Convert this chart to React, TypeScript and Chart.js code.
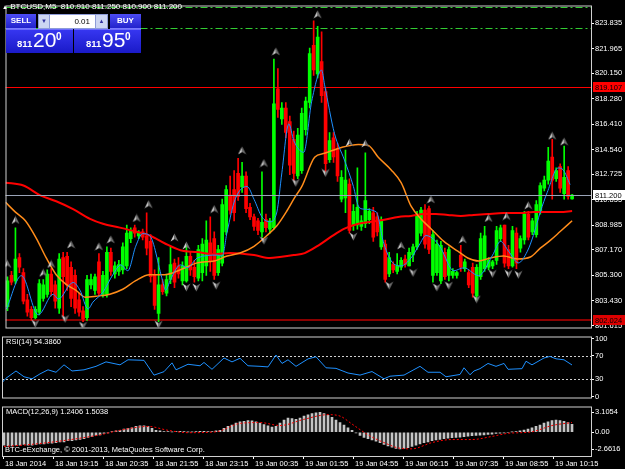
import React, { useEffect, useRef } from "react";
import { Chart, registerables } from "chart.js";

Chart.register(...registerables);

const FONT_FAMILY = "'Liberation Sans', Arial, sans-serif";
const FONT_SIZE = 7.5;

// ---------------- price panel (M5 candles, index = bar number) ----------------
const barOpen = [
  803.0, 805.3, 804.9, 806.6, 805.5, 803.5, 802.8, 802.2, 802.6, 803.6,
  803.9, 805.4, 804.6, 802.9, 806.6, 806.7, 805.9, 805.3, 803.5, 802.7,
  802.2, 804.6, 804.2, 806.3, 803.9, 803.9, 807.0, 805.4, 805.6, 805.7,
  806.0, 808.0, 808.8, 808.2, 808.5, 808.2, 807.8, 805.3, 802.5, 804.6,
  804.0, 805.0, 806.2, 806.0, 804.9, 804.9, 806.7, 805.9, 805.1, 805.5,
  806.0, 807.7, 808.0, 805.5, 806.2, 808.5, 811.2, 811.6, 812.8, 811.8,
  812.6, 810.3, 809.6, 809.3, 808.5, 809.4, 808.7, 808.8, 819.0, 816.8,
  817.6, 816.6, 815.3, 812.6, 813.0, 816.0, 818.0, 822.2, 820.1, 821.0,
  818.8, 813.8, 815.4, 814.6, 810.9, 811.0, 812.0, 809.0, 809.0, 808.9,
  809.1, 809.4, 809.9, 809.6, 807.4, 807.6, 805.4, 806.1, 805.6, 805.9,
  806.5, 806.0, 806.8, 807.4, 808.4, 810.1, 810.2, 805.3, 805.5, 804.9,
  807.0, 805.3, 805.3, 805.3, 806.8, 805.8, 805.5, 805.9, 803.8, 805.2,
  805.8, 805.9, 806.0, 806.4, 808.0, 809.0, 807.2, 806.0, 808.4, 807.3,
  807.9, 809.8, 808.5, 808.3, 810.0, 811.7, 812.3, 814.0, 812.4, 813.3,
  811.3, 813.0, 810.91,
];
const barHigh = [
  805.2, 805.6, 808.8, 806.9, 805.8, 803.9, 803.0, 803.0, 805.0, 805.0,
  805.7, 805.8, 804.9, 806.9, 807.0, 807.0, 806.3, 805.7, 804.0, 803.0,
  805.3, 805.4, 805.4, 806.9, 805.6, 807.4, 807.3, 806.3, 806.4, 807.7,
  809.0, 808.8, 809.0, 808.6, 808.7, 809.9, 808.3, 805.7, 806.6, 805.0,
  805.4, 807.4, 806.5, 806.6, 806.3, 807.5, 807.0, 806.4, 807.5, 808.0,
  809.3, 809.6, 808.5, 807.5, 810.9, 811.9, 812.6, 813.0, 813.9, 813.6,
  812.9, 810.6, 809.8, 809.5, 812.9, 809.8, 809.5, 821.2, 820.5, 818.0,
  818.0, 817.0, 815.9, 816.1, 817.6, 818.4, 822.0, 824.0, 823.6, 823.2,
  819.0, 815.8, 815.8, 815.0, 813.0, 814.5, 812.4, 810.5, 813.2, 809.7,
  814.3, 810.2, 810.3, 809.9, 809.6, 807.9, 807.0, 806.3, 806.9, 806.6,
  806.8, 807.3, 807.6, 810.0, 810.3, 810.5, 810.4, 808.6, 807.9, 807.8,
  807.3, 807.4, 805.8, 805.6, 807.5, 806.5, 805.7, 806.2, 806.1, 808.4,
  808.9, 806.6, 806.4, 808.9, 809.0, 809.0, 807.5, 808.9, 808.8, 808.2,
  810.0, 810.0, 809.5, 810.8, 812.1, 812.6, 814.7, 815.3, 813.2, 813.5,
  814.8, 813.3, 811.25,
];
const barLow = [
  802.7, 804.6, 804.7, 805.5, 803.2, 802.3, 802.0, 802.1, 802.4, 803.4,
  803.7, 803.8, 802.9, 802.5, 802.3, 804.2, 803.0, 802.5, 802.3, 801.9,
  802.0, 804.3, 803.9, 803.8, 803.7, 803.7, 805.3, 805.1, 805.3, 805.4,
  805.8, 807.7, 808.1, 808.0, 807.9, 806.8, 804.8, 802.8, 801.9, 803.9,
  803.8, 804.7, 804.4, 805.1, 804.6, 804.8, 805.3, 804.8, 804.9, 804.9,
  805.3, 805.6, 805.0, 805.3, 806.0, 808.3, 809.8, 809.3, 810.8, 811.4,
  809.9, 809.4, 808.6, 808.3, 808.1, 808.5, 808.4, 808.7, 816.9, 816.4,
  815.4, 812.7, 812.3, 812.4, 812.8, 815.6, 817.6, 820.0, 819.8, 818.0,
  812.9, 813.6, 813.6, 812.2, 810.7, 809.9, 808.4, 808.6, 808.7, 808.6,
  808.8, 809.1, 807.8, 808.2, 807.2, 804.8, 805.2, 805.5, 805.4, 805.7,
  805.9, 806.0, 806.3, 807.2, 808.2, 807.3, 806.9, 804.8, 805.3, 804.7,
  805.0, 804.9, 805.1, 805.1, 805.6, 805.6, 804.4, 803.7, 803.5, 805.0,
  805.6, 805.7, 805.8, 806.1, 807.8, 805.9, 805.8, 805.9, 805.8, 807.0,
  807.6, 807.9, 808.3, 808.1, 809.8, 811.5, 812.0, 810.9, 812.2, 811.4,
  810.9, 810.9, 810.9,
];
const barClose = [
  804.9, 804.8, 806.5, 805.9, 803.4, 802.6, 802.2, 802.8, 804.7, 804.6,
  805.4, 804.1, 803.4, 806.5, 805.2, 804.6, 803.6, 802.9, 802.6, 802.1,
  805.0, 805.0, 805.2, 804.0, 805.3, 807.0, 805.6, 806.0, 806.1, 807.4,
  808.4, 808.6, 808.4, 808.4, 808.1, 807.3, 805.2, 803.1, 804.6, 804.1,
  805.0, 806.1, 804.8, 805.4, 806.0, 806.7, 805.7, 805.2, 807.2, 807.6,
  807.9, 806.3, 805.3, 807.2, 810.5, 811.6, 810.1, 809.9, 811.1, 812.6,
  810.2, 809.6, 808.9, 808.6, 809.2, 808.8, 809.3, 817.9, 817.5, 817.6,
  815.8, 813.4, 812.8, 815.6, 817.2, 818.1, 821.6, 820.4, 822.8, 818.5,
  813.5, 815.2, 814.0, 812.6, 812.5, 812.3, 808.6, 810.0, 810.3, 809.3,
  810.8, 810.0, 808.1, 808.5, 809.3, 805.0, 806.6, 805.7, 806.0, 806.4,
  806.1, 807.0, 807.4, 809.7, 810.1, 807.6, 807.2, 808.3, 807.6, 807.5,
  805.2, 807.2, 805.6, 805.5, 805.9, 806.3, 804.6, 804.0, 805.9, 808.0,
  808.2, 806.4, 806.3, 808.6, 808.8, 806.2, 806.0, 808.6, 806.2, 808.0,
  809.8, 808.1, 809.3, 810.5, 811.9, 812.3, 813.7, 812.3, 813.0, 811.7,
  812.5, 811.1, 811.2,
];

const priceTicks = [823.835, 821.965, 820.15, 818.28, 816.41, 814.54, 812.725, 810.855, 808.985, 807.17, 805.3, 803.43, 801.615];
const levelRedLine = 819.107;
const levelDarkRedLine = 802.024;
const bidLine = 811.2;
const greenLines = [824.99, 823.475];

// moving averages (bar index, price)
const maSlowX = [-0.5, 4, 8.25, 12.25, 16.5, 20.75, 24, 28.25, 32.25, 35.75, 39.5, 43.5, 47.75, 52, 56, 62, 66, 68.5, 72, 74.75, 78.25, 81.5, 84.75, 88.25, 91.5, 94.75, 98.25, 101.5, 104.75, 107.75, 110.75, 114, 117.25, 120.75, 124.75, 129, 132.25, 135.75, 139, 142];
const maSlowY = [812.11, 811.9, 811.18, 810.75, 810.17, 809.45, 809.09, 808.81, 808.52, 808.23, 807.66, 807.15, 807.01, 806.86, 806.94, 806.79, 806.58, 806.65, 806.79, 806.94, 807.51, 808.16, 808.73, 809.09, 809.24, 809.38, 809.59, 809.67, 809.81, 809.81, 809.74, 809.67, 809.74, 809.81, 809.88, 809.88, 809.96, 809.96, 809.96, 810.03];
const maMidX = [-0.5, 2, 4.5, 7.25, 9.75, 12.25, 14.75, 17.25, 19.5, 22.25, 25.75, 29, 32.25, 35.75, 39.5, 43.5, 47.75, 52, 55.25, 58.5, 62, 65.25, 67.75, 70.25, 72.25, 74, 77.25, 79.75, 84, 88.25, 90.75, 93.25, 96.5, 99, 101.5, 104, 106.5, 109.75, 113.25, 115.75, 118.5, 121.5, 124.75, 128.25, 131.5, 134, 136.5, 139, 142];
const maMidY = [810.67, 809.95, 809.31, 808.02, 806.58, 805.35, 804.64, 804.2, 803.7, 803.77, 803.92, 804.28, 804.92, 805.35, 805.35, 805.71, 806.22, 806.36, 806.72, 806.94, 807.44, 808.23, 808.95, 810.03, 811.03, 811.82, 813.98, 814.27, 814.7, 814.92, 814.85, 813.98, 813.05, 812.11, 810.39, 809.45, 808.73, 807.8, 807.08, 806.58, 806.36, 806.58, 806.72, 806.5, 806.65, 807.3, 807.87, 808.52, 809.31];
const maFastX = [-0.25, 3.5, 7.75, 11.5, 12.75, 16.5, 18.25, 20.25, 21.5, 24, 26.5, 28.5, 30.25, 32.25, 34, 35.75, 39, 39.75, 41, 43.5, 45.25, 47.75, 52.75, 54, 55.25, 57.25, 60.25, 62, 64, 66, 67.75, 69, 70.75, 72, 74.5, 76.5, 79, 79.75, 82.25, 84.75, 87, 88.25, 89.5, 92.75, 94.5, 96.5, 99, 101.5, 103.5, 105.25, 107.75, 109, 112.25, 114.75, 118.5, 122, 124, 126, 128.5, 130.75, 132.25, 134, 135.75, 138.5, 139.75, 141.5];
const maFastY = [802.83, 805.28, 802.41, 803.92, 803.56, 804.78, 804.2, 802.83, 803.34, 804.06, 805.35, 806.07, 805.64, 807.44, 808.37, 808.23, 804.92, 804.2, 804.99, 806.07, 805.86, 806.58, 806.79, 806.72, 808.52, 810.89, 811.83, 810.89, 809.59, 809.24, 809.96, 812.83, 816.43, 815.2, 814.34, 818.08, 820.38, 819.3, 815.71, 813.77, 811.83, 810.39, 810.17, 809.96, 807.8, 806.36, 806.0, 806.58, 807.51, 808.23, 807.8, 807.29, 805.64, 805.86, 805.28, 806.79, 807.8, 807.08, 806.22, 807.08, 808.23, 809.96, 811.4, 813.19, 813.05, 811.97];

// fractal markers (bar index, price of marker)
const fractalUpX = [0, 2, 9, 11, 16, 23, 26, 32.5, 35.5, 42, 45, 52, 59, 64.5, 67.5, 78, 86, 90, 99, 106.5, 114.5, 121, 125.5, 131, 137, 140];
const fractalUpY = [806.14, 809.37, 805.49, 806.14, 807.57, 807.43, 807.94, 809.52, 810.53, 808.08, 807.5, 810.17, 814.48, 813.55, 821.75, 824.48, 815.06, 814.99, 807.5, 810.88, 807.94, 809.52, 809.66, 810.45, 815.56, 815.13];
const fractalDownX = [7, 14.5, 19, 38, 45, 47.5, 52.5, 64.5, 72.5, 80, 87, 96, 102, 108, 111, 118, 122, 126, 128.5];
const fractalDownY = [801.75, 802.11, 801.6, 801.68, 804.41, 804.41, 804.55, 807.86, 812.11, 812.83, 808.15, 804.55, 805.49, 804.41, 804.55, 803.55, 805.42, 805.42, 805.35];

// ---------------- RSI(14) ----------------
const rsiX = [-0.5, 0.5, 3, 5, 7, 9, 11, 13, 15, 17, 20, 23, 25.5, 29, 31, 35, 37.5, 40, 42, 43, 46, 49, 50, 52, 55, 57, 59, 61, 64, 66, 68, 69.5, 71, 73, 76, 78, 80.5, 83, 86, 89, 92, 95, 96.5, 100, 104, 106, 109, 110.5, 114, 115, 116.5, 117.5, 119, 121, 123, 125, 126, 129.5, 130.5, 132, 135, 136.5, 138, 140, 142];
const rsiY = [23.8, 31.5, 44, 34, 30.5, 39, 46, 41.8, 54.6, 44, 46, 52, 59.7, 54.6, 63.3, 62.3, 36.8, 42.8, 58, 46, 55.6, 53, 58.7, 46.9, 66.4, 59.7, 65.9, 53, 52, 51, 71.5, 57, 63.3, 52, 64.8, 68.5, 49.5, 48.5, 40.5, 36.9, 43, 30.5, 35, 36.9, 52, 41.8, 41.8, 34, 38, 49.5, 37.4, 44, 48, 57, 52, 57, 46.9, 48, 60.8, 54.6, 66.4, 69, 65, 63.3, 54.39];
const rsiTicks = [100, 70, 30, 0];
const rsiLevels = [70, 30];

// ---------------- MACD(12,26,9) ----------------
const macdHist = [
  -2.0, -2.1, -2.1, -2.0, -2.0, -1.9, -2.0, -2.0, -1.9, -1.8,
  -1.8, -1.7, -1.7, -1.6, -1.5, -1.5, -1.3, -1.3, -1.2, -1.1,
  -1.0, -0.8, -0.7, -0.5, -0.4, -0.2, -0.1, 0.1, 0.2, 0.3,
  0.5, 0.6, 0.7, 0.9, 1.0, 1.0, 0.9, 0.6, 0.3, 0.2,
  0.1, 0.1, 0.05, 0.1, 0.15, 0.1, 0.05, 0.05, 0.1, 0.15,
  0.15, 0.1, 0.1, 0.2, 0.3, 0.6, 0.9, 1.1, 1.4, 1.6,
  1.7, 1.8, 1.75, 1.6, 1.4, 1.2, 1.0, 0.8, 0.9, 1.4,
  1.9, 2.2, 2.1, 2.0, 2.2, 2.5, 2.7, 2.9, 3.0, 3.1,
  2.9, 2.6, 2.3, 1.9, 1.5, 1.1, 0.7, 0.3, -0.1, -0.5,
  -0.8, -1.0, -1.2, -1.4, -1.6, -1.9, -2.1, -2.3, -2.5, -2.6,
  -2.5, -2.4, -2.2, -2.0, -1.8, -1.6, -1.5, -1.3, -1.2, -1.1,
  -1.0, -0.9, -0.85, -0.8, -0.75, -0.7, -0.6, -0.55, -0.5, -0.45,
  -0.4, -0.35, -0.3, -0.2, -0.15, -0.1, 0.0, 0.05, 0.1, 0.2,
  0.35, 0.5, 0.7, 0.9, 1.1, 1.4, 1.6, 1.8, 1.9, 1.8,
  1.7, 1.5, 1.24,
];
const signalX = [0, 6.5, 14, 24, 29, 36, 41, 46, 53, 59, 64, 69, 75, 81, 84, 87, 91, 95, 99, 102, 107, 112, 117, 122, 126, 132, 137, 142];
const signalY = [-2.2, -1.9, -1.37, -0.4, 0.3, 0.9, 0.3, -0.07, 0.07, 1.37, 1.5, 1.04, 2.0, 2.72, 2.5, 1.27, -0.4, -1.6, -2.48, -2.57, -1.6, -1.13, -1.13, -0.65, -0.17, 0.07, 1.04, 1.5];
const macdTicks = [3.1054, 0, -2.6616];

// ---------------- time axis ----------------
const timeTickX = [-0.25, 12.25, 24.75, 37.25, 49.75, 62.25, 74.75, 87.25, 99.75, 112.25, 124.75, 137.25];
const timeLabels = ["18 Jan 2014", "18 Jan 19:15", "18 Jan 20:35", "18 Jan 21:55", "18 Jan 23:15", "19 Jan 00:35", "19 Jan 01:55", "19 Jan 04:55", "19 Jan 06:15", "19 Jan 07:35", "19 Jan 08:55", "19 Jan 10:15"];

// ---------------- header texts ----------------
const symbolLabel = "BTCUSD,M5";
const headerOHLC = ["810.910", "811.250", "810.900", "811.200"];
const lotSize = "0.01";
const sellQuote = ["811", "20", "0"];
const buyQuote = ["811", "95", "0"];
const rsiLabel = "RSI(14) 54.3860";
const macdLabel = "MACD(12,26,9) 1.2406 1.5038";
const copyright = "BTC-eExchange, © 2001-2013, MetaQuotes Software Corp.";

const X_MIN = -0.5;
const X_MAX = 146.75;
const BULL = "#00ff00";
const BEAR = "#ff0000";
const AXIS_COLOR = "#ffffff";
const FRAME_COLOR = "#d0d0d0";

type Level = { value: number; color: string; width: number; dash: number[]; above: boolean };

const zip = (xs: number[], ys: number[]) => xs.map((x, i) => ({ x, y: ys[i] }));

function rightAxis(min: number, max: number, ticks: number[], fmt: (v: number) => string) {
  return {
    type: "linear",
    position: "right",
    min,
    max,
    beginAtZero: false,
    afterFit: (s: any) => {
      s.width = 34;
    },
    afterBuildTicks: (s: any) => {
      s.ticks = ticks.map((v) => ({ value: v }));
    },
    ticks: {
      color: AXIS_COLOR,
      font: { family: FONT_FAMILY, size: FONT_SIZE },
      padding: 1,
      autoSkip: false,
      callback: (v: any) => fmt(Number(v)),
    },
    grid: { drawOnChartArea: false, drawTicks: true, tickLength: 3, color: AXIS_COLOR },
    border: { display: false },
  };
}

function framePlugin(dTop: number, dBottom: number) {
  return {
    id: "frame",
    afterDraw(chart: any) {
      const { ctx, chartArea: a } = chart;
      ctx.save();
      ctx.strokeStyle = FRAME_COLOR;
      ctx.lineWidth = 1;
      ctx.strokeRect(a.left + 0.5, a.top + dTop + 0.5, a.right - a.left, a.bottom - a.top - dTop + dBottom);
      ctx.restore();
    },
  };
}

// horizontal levels drawn through the y scale, snapped to whole pixels
function levelsPlugin(levels: Level[]) {
  const draw = (chart: any, above: boolean) => {
    const { ctx, chartArea: a } = chart;
    const ys = chart.scales.y;
    ctx.save();
    levels
      .filter((l) => l.above === above)
      .forEach((l) => {
        const p = ys.getPixelForValue(l.value);
        const y = l.width % 2 === 1 ? Math.round(p) + 0.5 : Math.round(p);
        ctx.strokeStyle = l.color;
        ctx.lineWidth = l.width;
        ctx.setLineDash(l.dash);
        ctx.beginPath();
        ctx.moveTo(a.left, y);
        ctx.lineTo(a.right, y);
        ctx.stroke();
      });
    ctx.restore();
  };
  return {
    id: "levels",
    beforeDatasetsDraw(chart: any) {
      draw(chart, false);
    },
    afterDatasetsDraw(chart: any) {
      draw(chart, true);
    },
  };
}

function makeArrow(up: boolean) {
  const c = document.createElement("canvas");
  c.width = 9;
  c.height = 9;
  const g = c.getContext("2d")!;
  const tip = up ? 0.5 : 8.5;
  const base = up ? 8.5 : 0.5;
  const notch = up ? 6 : 3;
  g.fillStyle = "#d0d0d0";
  g.beginPath();
  g.moveTo(4.5, tip);
  g.lineTo(4.5, notch);
  g.lineTo(0.5, base);
  g.closePath();
  g.fill();
  g.fillStyle = "#707070";
  g.beginPath();
  g.moveTo(4.5, tip);
  g.lineTo(8.5, base);
  g.lineTo(4.5, notch);
  g.closePath();
  g.fill();
  return c;
}

export default function App() {
  const mainRef = useRef<HTMLCanvasElement>(null);
  const rsiRef = useRef<HTMLCanvasElement>(null);
  const macdRef = useRef<HTMLCanvasElement>(null);

  useEffect(() => {
    const charts: Chart[] = [];
    const idx = barOpen.map((_, i) => i);
    const candleColor = idx.map((i) => (barClose[i] >= barOpen[i] ? BULL : BEAR));
    const upArrow = makeArrow(true);
    const downArrow = makeArrow(false);

    const mainLevels: Level[] = [
      ...greenLines.map((v) => ({ value: v, color: "#32cd32", width: 1, dash: [7, 3, 2, 3], above: false })),
      { value: levelRedLine, color: "#ff0000", width: 1, dash: [], above: false },
      { value: levelDarkRedLine, color: "#8b0000", width: 2, dash: [], above: false },
      { value: bidLine, color: "#9aa4b8", width: 1, dash: [], above: true },
    ];
    const rsiLevelLines: Level[] = rsiLevels.map((v) => ({ value: v, color: "#d0d0d0", width: 1, dash: [2, 2], above: false }));

    const tags = [
      { value: levelRedLine, bg: "#ff0000", fg: "#000000" },
      { value: bidLine, bg: "#ffffff", fg: "#000000" },
      { value: levelDarkRedLine, bg: "#dd0000", fg: "#000000" },
    ];
    const tagPlugin = {
      id: "tags",
      afterDraw(chart: any) {
        const { ctx, chartArea: a } = chart;
        const ys = chart.scales.y;
        ctx.save();
        ctx.font = `${FONT_SIZE}px ${FONT_FAMILY}`;
        ctx.textBaseline = "middle";
        tags.forEach((t) => {
          const y = Math.round(ys.getPixelForValue(t.value));
          ctx.fillStyle = t.bg;
          ctx.fillRect(a.right + 2, y - 5, chart.width - a.right - 2, 10);
          ctx.fillStyle = t.fg;
          ctx.fillText(t.value.toFixed(3), a.right + 4, y + 0.5);
        });
        ctx.restore();
      },
    };

    const lineDs = (xs: number[], ys: number[], color: string, width: number, order: number) => ({
      type: "line",
      data: zip(xs, ys),
      borderColor: color,
      borderWidth: width,
      pointRadius: 0,
      cubicInterpolationMode: "monotone",
      order,
    });

    const fractalDs = (xs: number[], ys: number[], img: HTMLCanvasElement) => ({
      type: "line",
      data: zip(xs, ys),
      showLine: false,
      pointStyle: img,
      pointRadius: 4.5,
      order: 1,
    });

    if (mainRef.current) {
      charts.push(
        new Chart(mainRef.current, {
          type: "bar",
          data: {
            datasets: [
              {
                type: "bar",
                data: idx.map((i) => ({ x: i, y: [barLow[i], barHigh[i]] })),
                backgroundColor: candleColor,
                barThickness: 1,
                grouped: false,
                order: 9,
              },
              {
                type: "bar",
                data: idx.map((i) => ({ x: i, y: [barOpen[i], barClose[i]] })),
                backgroundColor: candleColor,
                barThickness: 3,
                minBarLength: 1,
                grouped: false,
                order: 8,
              },
              lineDs(maSlowX, maSlowY, "#ff0000", 2, 5),
              lineDs(maMidX, maMidY, "#ff8c1a", 1.5, 4),
              lineDs(maFastX, maFastY, "#1e90ff", 1, 3),
              fractalDs(fractalUpX, fractalUpY, upArrow),
              fractalDs(fractalDownX, fractalDownY, downArrow),
            ] as any,
          },
          options: {
            responsive: false,
            animation: false,
            devicePixelRatio: 1,
            layout: { padding: { left: 2, top: 2, bottom: 2, right: 0 } },
            plugins: { legend: { display: false }, tooltip: { enabled: false } },
            scales: {
              x: { type: "linear", min: X_MIN, max: X_MAX, display: false, offset: false, grid: { offset: false } },
              y: rightAxis(801.471, 825.129, priceTicks, (v) => v.toFixed(3)),
            } as any,
          },
          plugins: [levelsPlugin(mainLevels), framePlugin(0, 0), tagPlugin],
        } as any)
      );
    }

    if (rsiRef.current) {
      charts.push(
        new Chart(rsiRef.current, {
          type: "line",
          data: {
            datasets: [
              {
                type: "line",
                data: zip(rsiX, rsiY),
                borderColor: "#1e90ff",
                borderWidth: 1,
                pointRadius: 0,
                tension: 0,
                order: 1,
              },
            ] as any,
          },
          options: {
            responsive: false,
            animation: false,
            devicePixelRatio: 1,
            layout: { padding: { left: 2, top: 3, bottom: 1, right: 0 } },
            plugins: { legend: { display: false }, tooltip: { enabled: false } },
            scales: {
              x: { type: "linear", min: X_MIN, max: X_MAX, display: false },
              y: rightAxis(0, 100, rsiTicks, (v) => String(v)),
            } as any,
          },
          plugins: [levelsPlugin(rsiLevelLines), framePlugin(-2, 1)],
        } as any)
      );
    }

    if (macdRef.current) {
      charts.push(
        new Chart(macdRef.current, {
          type: "bar",
          data: {
            datasets: [
              {
                type: "bar",
                data: idx.map((i) => ({ x: i, y: macdHist[i] })),
                backgroundColor: "#c4c4c4",
                barThickness: 2,
                grouped: false,
                order: 3,
              },
              {
                type: "line",
                data: zip(signalX, signalY),
                borderColor: "#ff0000",
                borderWidth: 1,
                borderDash: [2, 2],
                pointRadius: 0,
                cubicInterpolationMode: "monotone",
                order: 1,
              },
            ] as any,
          },
          options: {
            responsive: false,
            animation: false,
            devicePixelRatio: 1,
            layout: { padding: { left: 2, top: 2, bottom: 0, right: 0 } },
            plugins: { legend: { display: false }, tooltip: { enabled: false } },
            scales: {
              x: {
                type: "linear",
                min: X_MIN,
                max: X_MAX,
                offset: false,
                afterFit: (s: any) => {
                  s.height = 13;
                },
                afterBuildTicks: (s: any) => {
                  s.ticks = timeTickX.map((v) => ({ value: v }));
                },
                ticks: {
                  color: AXIS_COLOR,
                  font: { family: FONT_FAMILY, size: FONT_SIZE },
                  autoSkip: false,
                  maxRotation: 0,
                  align: "start",
                  labelOffset: 2,
                  padding: 0,
                  callback: (v: any) => timeLabels[timeTickX.indexOf(Number(v))] ?? "",
                },
                grid: { drawOnChartArea: false, drawTicks: true, tickLength: 3, color: AXIS_COLOR, offset: false },
                border: { display: false },
              },
              y: rightAxis(-3.68, 3.83, macdTicks, (v) => (v === 0 ? "0.00" : v.toFixed(4))),
            } as any,
          },
          plugins: [framePlugin(-1, 0)],
        } as any)
      );
    }

    return () => charts.forEach((c) => c.destroy());
  }, []);

  const txt: React.CSSProperties = {
    position: "absolute",
    color: "#ffffff",
    fontFamily: FONT_FAMILY,
    fontSize: 7.5,
    lineHeight: "9px",
    whiteSpace: "pre",
  };
  const button: React.CSSProperties = {
    position: "absolute",
    top: 14,
    width: 30,
    height: 14,
    background: "linear-gradient(#4c4cf4, #2222cc)",
    color: "#ffffff",
    fontFamily: FONT_FAMILY,
    fontWeight: "bold",
    fontSize: 8,
    lineHeight: "14px",
    textAlign: "center",
    borderBottom: "1px solid #7a7aff",
  };
  const quoteBox: React.CSSProperties = {
    position: "absolute",
    top: 29,
    width: 67,
    height: 23,
    background: "linear-gradient(#3636f0, #1a1ac8)",
    borderTop: "1px solid #6c6cff",
  };
  const quoteText = (left: number, size: number, top: number, bold: boolean): React.CSSProperties => ({
    position: "absolute",
    left,
    top,
    color: "#ffffff",
    fontFamily: FONT_FAMILY,
    fontSize: size,
    lineHeight: `${size}px`,
    fontWeight: bold ? "bold" : "normal",
  });

  return (
    <div
      style={{
        position: "fixed",
        left: 0,
        top: 0,
        width: 625,
        height: 469,
        background: "#000000",
        overflow: "hidden",
      }}
    >
      <canvas ref={mainRef} width={625} height={333} style={{ position: "absolute", left: 0, top: 0 }} />
      <canvas ref={rsiRef} width={625} height={69} style={{ position: "absolute", left: 0, top: 333 }} />
      <canvas ref={macdRef} width={625} height={67} style={{ position: "absolute", left: 0, top: 402 }} />

      <div style={{ ...txt, left: 2, top: 2, fontSize: 8 }}>
        <span style={{ fontSize: 6 }}>▲</span>
        {` ${symbolLabel}  ${headerOHLC.join(" ")}`}
      </div>

      <div style={{ ...button, left: 6 }}>SELL</div>
      <div style={{ position: "absolute", left: 38, top: 14, width: 70, height: 15, background: "#8e9cd8" }} />
      <div
        style={{
          position: "absolute",
          left: 39,
          top: 15,
          width: 10,
          height: 13,
          background: "#cdd6f2",
          color: "#3030a0",
          fontSize: 6,
          lineHeight: "13px",
          textAlign: "center",
          fontFamily: FONT_FAMILY,
        }}
      >
        ▼
      </div>
      <div
        style={{
          position: "absolute",
          left: 50,
          top: 15,
          width: 45,
          height: 13,
          background: "#ffffff",
          color: "#000000",
          fontSize: 8,
          lineHeight: "13px",
          textAlign: "right",
          fontFamily: FONT_FAMILY,
          boxSizing: "border-box",
        }}
      >
        <span style={{ marginRight: 5 }}>{lotSize}</span>
      </div>
      <div
        style={{
          position: "absolute",
          left: 96,
          top: 15,
          width: 11,
          height: 13,
          background: "#cdd6f2",
          color: "#3030a0",
          fontSize: 6,
          lineHeight: "13px",
          textAlign: "center",
          fontFamily: FONT_FAMILY,
        }}
      >
        ▲
      </div>
      <div style={{ ...button, left: 110, width: 31 }}>BUY</div>

      <div style={{ ...quoteBox, left: 6 }} />
      <div style={{ ...quoteBox, left: 74 }} />
      <div style={quoteText(17, 9.5, 39, true)}>{sellQuote[0]}</div>
      <div style={quoteText(33, 21, 29, false)}>{sellQuote[1]}</div>
      <div style={quoteText(56, 10, 32, true)}>{sellQuote[2]}</div>
      <div style={quoteText(86, 9.5, 39, true)}>{buyQuote[0]}</div>
      <div style={quoteText(102, 21, 29, false)}>{buyQuote[1]}</div>
      <div style={quoteText(125, 10, 32, true)}>{buyQuote[2]}</div>

      <div style={{ ...txt, left: 6, top: 337 }}>{rsiLabel}</div>
      <div style={{ ...txt, left: 6, top: 407 }}>{macdLabel}</div>
      <div style={{ ...txt, left: 5, top: 445 }}>{copyright}</div>
    </div>
  );
}
